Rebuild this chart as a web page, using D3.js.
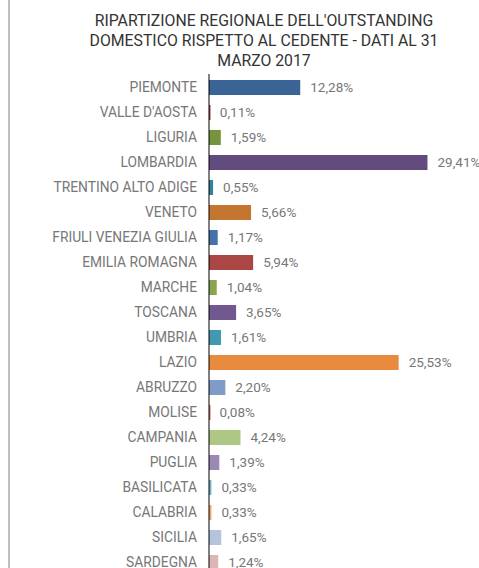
<!DOCTYPE html>
<meta charset="utf-8">
<html>
<body>
<svg width="479" height="568"></svg>
<script src="https://d3js.org/d3.v7.min.js"></script>
<script>
// regions and share of outstanding (%)
var regions = ["PIEMONTE", "VALLE D'AOSTA", "LIGURIA", "LOMBARDIA", "TRENTINO ALTO ADIGE",
  "VENETO", "FRIULI VENEZIA GIULIA", "EMILIA ROMAGNA", "MARCHE", "TOSCANA",
  "UMBRIA", "LAZIO", "ABRUZZO", "MOLISE", "CAMPANIA",
  "PUGLIA", "BASILICATA", "CALABRIA", "SICILIA", "SARDEGNA"];
var shares = [12.28, 0.11, 1.59, 29.41, 0.55, 5.66, 1.17, 5.94, 1.04, 3.65,
  1.61, 25.53, 2.20, 0.08, 4.24, 1.39, 0.33, 0.33, 1.65, 1.24];
var colors = ["#3b6496", "#a23b3a", "#77933c", "#614c7d", "#31849b",
  "#c4752f", "#4572a7", "#aa4643", "#89a54e", "#71588f",
  "#4198af", "#e88b3f", "#7f9bc8", "#c76a68", "#aec784",
  "#9b88b5", "#72b7cc", "#f6a96b", "#b5c3dd", "#ddb5b5"];
var titleLines = ["RIPARTIZIONE REGIONALE DELL'OUTSTANDING",
  "DOMESTICO RISPETTO AL CEDENTE - DATI AL 31", "MARZO 2017"];

var svg = d3.select("svg");
var font = "Roboto, 'DejaVu Sans Condensed', sans-serif";

// thin frame line on the left
svg.append("line")
  .attr("x1", 9).attr("x2", 9).attr("y1", 0).attr("y2", 568)
  .attr("stroke", "#aaa").attr("stroke-width", 1.5);

// title
svg.append("g").selectAll("text")
  .data(titleLines)
  .enter().append("text")
  .attr("x", 264)
  .attr("y", function(d, i) { return 26 + i * 20; })
  .attr("text-anchor", "middle")
  .attr("font-family", font)
  .attr("font-size", "15.8px")
  .attr("font-weight", 400)
  .attr("fill", "#333")
  .text(function(d) { return d; });

var x = d3.scaleLinear().domain([0, 35]).range([209, 469]);
var y = d3.scaleBand().domain(regions).range([75, 575]).paddingInner(0.4).paddingOuter(0.2);

var rows = regions.map(function(r, i) { return {name: r, value: shares[i], color: colors[i]}; });

svg.append("g").selectAll("rect")
  .data(rows)
  .enter().append("rect")
  .attr("x", x(0))
  .attr("y", function(d) { return y(d.name); })
  .attr("width", function(d) { return Math.max(1.5, x(d.value) - x(0)); })
  .attr("height", y.bandwidth())
  .attr("fill", function(d) { return d.color; });

// value labels
svg.append("g").selectAll("text")
  .data(rows)
  .enter().append("text")
  .attr("x", function(d) { return x(d.value) + 10; })
  .attr("y", function(d) { return y(d.name) + y.bandwidth() / 2; })
  .attr("dy", "0.35em")
  .attr("font-family", font)
  .attr("font-size", "13.5px")
  .attr("fill", "#777")
  .text(function(d) { return d.value.toFixed(2).replace(".", ",") + "%"; });

// category axis
var axis = svg.append("g")
  .attr("transform", "translate(" + x(0) + ",0)")
  .call(d3.axisLeft(y).tickSize(0).tickPadding(12));
axis.select(".domain").attr("stroke", "#000").attr("d", "M0,74V568");
axis.selectAll("text")
  .attr("font-family", font)
  .attr("font-size", "13.8px")
  .attr("fill", "#777");
</script>
</body>
</html>
<style>
body { margin: 0; background: #fff; }
</style>
